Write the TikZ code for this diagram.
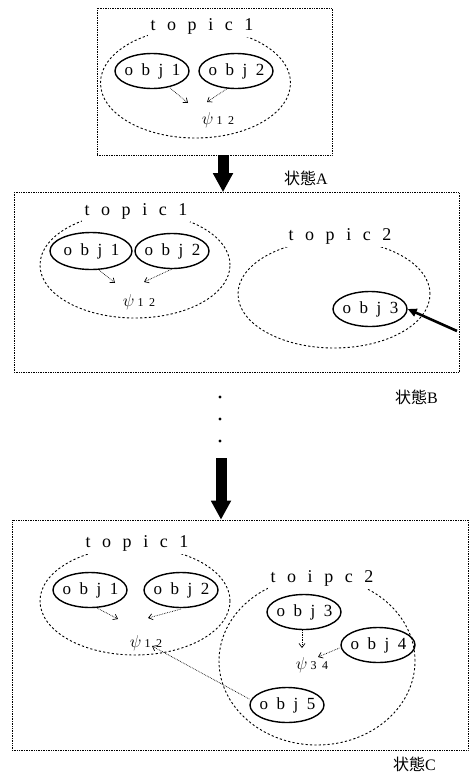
\documentclass[tikz,border=0pt]{standalone}
\usepackage{fontspec}
\setmainfont{Liberation Serif}
\newfontfamily\spfont[LetterSpace=50]{Liberation Serif}
\newfontfamily\tpfont[LetterSpace=64]{Liberation Serif}
\newfontfamily\jfont{Noto Sans CJK JP}
\usetikzlibrary{arrows.meta,shapes.geometric}
\tikzset{
  frame/.style={draw, densely dotted, line width=0.7pt},
  topic/.style={ellipse, draw, dash pattern=on 2.2pt off 2.2pt, line width=0.9pt, inner sep=0pt},
  tlabel/.style={fill=white, inner sep=3pt, font=\tpfont\fontsize{18}{18}\selectfont},
  obj/.style={ellipse, draw, line width=1.4pt, minimum width=74pt, minimum height=35pt, inner sep=0pt, font=\spfont\fontsize{17}{17}\selectfont},
  psi/.style={inner sep=1pt, font=\fontsize{19}{19}\selectfont},
  rel/.style={densely dotted, line width=0.7pt, -{Straight Barb[length=4pt,width=6pt]}},
  bigarrow/.style={line width=11pt, -{Triangle[length=19pt,width=19pt]}},
  push/.style={line width=2.6pt, -{Triangle[length=9pt,width=8pt]}},
  state/.style={font=\fontsize{16}{16}\selectfont, anchor=base west, inner sep=0pt},
}
\newcommand{\psisub}[1]{$\psi$\,{\fontsize{12}{12}\selectfont\addfontfeature{LetterSpace=45}#1}}
\newcommand{\ob}[1]{\makebox[0pt]{\hspace*{1pt}#1}}
\begin{document}
\begin{tikzpicture}[x=1pt,y=-1pt]
\useasboundingbox (0,0) rectangle (471,774);
% ---------- state A ----------
\node[frame, minimum width=235pt, minimum height=147pt, inner sep=0pt] (boxA) at (214.5,81.5) {};
\node[topic, minimum width=190pt, minimum height=110pt] (tA1) at (195.5,83) {};
\node[tlabel] (tA1l) at (202,26) {topic1};
\node[obj] (aO1) at (152,71) {\ob{obj1}};
\node[obj] (aO2) at (236,71) {\ob{obj2}};
\node[psi] (aP) at (218,120) {\psisub{12}};
\coordinate (aP1) at (188,103);
\coordinate (aP2) at (207,102);
\draw[rel] (aO1) ++(18,17) -- (aP1);
\draw[rel] (aO2) ++(-8,17) -- (aP2);
\node[state] (stA) at (284,184) {{\jfont 状態}A};
\coordinate (xa) at (223,0);
% ---------- state B ----------
\node[frame, minimum width=445pt, minimum height=180pt, inner sep=0pt] (boxB) at (236.5,282.5) {};
\draw[bigarrow] (boxA.south -| xa) -- (boxB.north -| xa);
\node[topic, minimum width=190pt, minimum height=106pt] (tB1) at (135,265) {};
\node[tlabel] (tB1l) at (136,211) {topic1};
\node[obj, minimum width=82pt, minimum height=37pt] (bO1) at (91,251) {\ob{obj1}};
\node[obj] (bO2) at (172,251) {\ob{obj2}};
\node[psi] (bP) at (139,302) {\psisub{12}};
\coordinate (bP1) at (115,283);
\coordinate (bP2) at (144,282);
\draw[rel] (bO1) ++(8,19) -- (bP1);
\draw[rel] (bO2) ++(0,18) -- (bP2);
\node[topic, minimum width=192pt, minimum height=108pt] (tB2) at (334,294) {};
\node[tlabel] (tB2l) at (340,236) {topic2};
\node[obj] (bO3) at (370,309) {\ob{obj3}};
\coordinate (src) at (457,331);
\draw[push] (src) -- (bO3.east);
\node[state] (stB) at (395,403) {{\jfont 状態}B};
% dots
\foreach \y/\n in {397/d1,419/d2,441/d3} \fill (220,\y) circle (1.6pt) coordinate (\n);
\coordinate (xb) at (221,0);
\coordinate (arrB) at (221,458);
% ---------- state C ----------
\node[frame, minimum width=456pt, minimum height=230pt, inner sep=0pt] (boxC) at (240,635) {};
\draw[bigarrow] (arrB) -- (boxC.north -| xb);
\node[topic, minimum width=190pt, minimum height=108pt] (tC1) at (135,601) {};
\node[tlabel] (tC1l) at (137,543) {topic1};
\node[topic, minimum width=196pt, minimum height=168pt] (tC2) at (317,661) {};
\node[tlabel] (tC2l) at (322,578) {toipc2};
\node[obj] (cO1) at (90,590) {\ob{obj1}};
\node[obj] (cO2) at (181,590) {\ob{obj2}};
\node[psi] (cP) at (146,643) {\psisub{12}};
\coordinate (cP1) at (118,619);
\coordinate (cP2) at (148,618);
\draw[rel] (cO1) ++(7,18) -- (cP1);
\draw[rel] (cO2) ++(0,19) -- (cP2);
\node[obj] (cO3) at (304,612) {\ob{obj3}};
\node[obj] (cO4) at (378,645) {\ob{obj4}};
\node[psi] (cP34) at (312,665) {\psisub{34}};
\coordinate (cQ1) at (302,648);
\coordinate (cQ2) at (318,657);
\draw[rel] (cO3.south) ++(-2,0) -- (cQ1);
\draw[rel] (cO4.west) ++(-1,3) -- (cQ2);
\node[obj] (cO5) at (287,705) {\ob{obj5}};
\coordinate (cP5) at (152,646);
\draw[rel] (cO5.west) ++(0,-6) -- (cP5);
\node[state] (stC) at (393,770) {{\jfont 状態}C};
\end{tikzpicture}
\end{document}
